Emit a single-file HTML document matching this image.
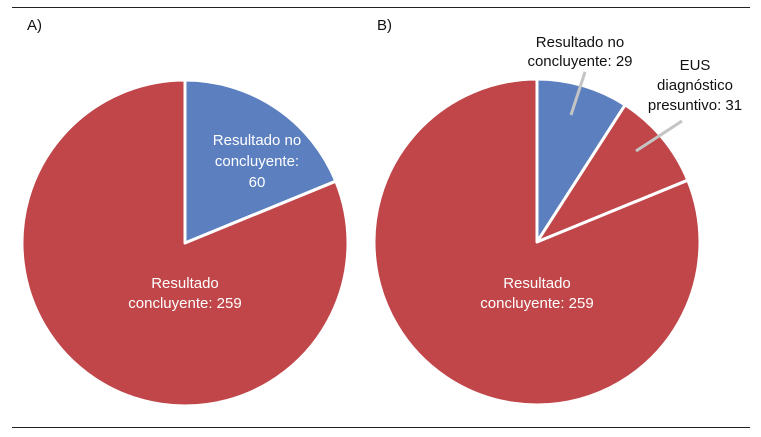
<!DOCTYPE html>
<html><head><meta charset="utf-8"><style>
body{margin:0;background:#fff}
svg{display:block;font-family:"Liberation Sans",Arial,sans-serif}
</style></head><body>
<svg id="c" width="761" height="437" viewBox="0 0 761 437">
<line x1="12" y1="7.5" x2="750" y2="7.5" stroke="#222" stroke-width="1"/>
<line x1="12" y1="427.5" x2="750" y2="427.5" stroke="#222" stroke-width="1"/>
<text x="27" y="30" font-size="15" fill="#111">A)</text>
<text x="377" y="30" font-size="15" fill="#111">B)</text>
<g id="pa"></g>
<g id="pb"></g>
<g font-size="15" text-anchor="middle">
<text x="257" y="145" fill="#fff"><tspan x="257">Resultado no</tspan><tspan x="257" dy="21">concluyente:</tspan><tspan x="257" dy="21">60</tspan></text>
<text x="185" y="288" fill="#fff"><tspan x="185">Resultado</tspan><tspan x="185" dy="20">concluyente: 259</tspan></text>
<text x="537" y="288" fill="#fff"><tspan x="537">Resultado</tspan><tspan x="537" dy="20">concluyente: 259</tspan></text>
<text x="580" y="47" fill="#111"><tspan x="580">Resultado no</tspan><tspan x="580" dy="19">concluyente: 29</tspan></text>
<text x="695" y="70" fill="#111"><tspan x="695">EUS</tspan><tspan x="695" dy="20">diagnóstico</tspan><tspan x="695" dy="20">presuntivo: 31</tspan></text>
</g>
<line x1="585" y1="72" x2="571" y2="115" stroke="#c4c4c4" stroke-width="3"/>
<line x1="682" y1="121" x2="636" y2="151" stroke="#c4c4c4" stroke-width="3"/>
</svg>
<script>
const catsA = ["Resultado no concluyente", "Resultado concluyente"];
const valsA = [60, 259];
const catsB = ["Resultado no concluyente", "EUS diagnóstico presuntivo", "Resultado concluyente"];
const valsB = [29, 31, 259];
const colsA = ["#5b7fbf", "#c0464a"];
const colsB = ["#5b7fbf", "#c0464a", "#c0464a"];
function drawPie(g, cats, vals, cols, cx, cy, r){
  const tot = vals.reduce((a,b)=>a+b,0);
  let a0 = 0;
  const ns = "http://www.w3.org/2000/svg";
  vals.forEach((v,i)=>{
    const a1 = a0 + v/tot*2*Math.PI;
    const x0 = cx + r*Math.sin(a0), y0 = cy - r*Math.cos(a0);
    const x1 = cx + r*Math.sin(a1), y1 = cy - r*Math.cos(a1);
    const large = (a1-a0) > Math.PI ? 1 : 0;
    const p = document.createElementNS(ns,"path");
    p.setAttribute("d",`M${cx},${cy}L${x0},${y0}A${r},${r} 0 ${large} 1 ${x1},${y1}Z`);
    p.setAttribute("fill",cols[i]);
    p.setAttribute("stroke","#fff");
    p.setAttribute("stroke-width","3");
    p.setAttribute("stroke-linejoin","round");
    
    
    g.appendChild(p);
    a0 = a1;
  });
}
drawPie(document.getElementById("pa"), catsA, valsA, colsA, 185, 243, 163);
drawPie(document.getElementById("pb"), catsB, valsB, colsB, 537, 242, 163);
</script>
</body></html>
